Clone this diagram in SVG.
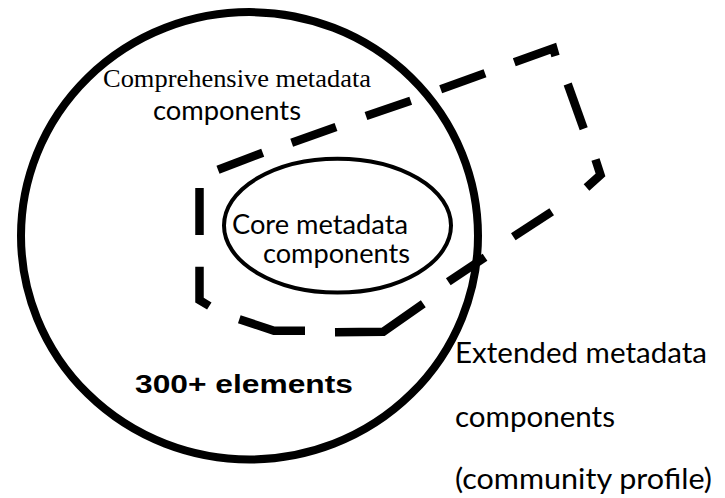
<svg xmlns="http://www.w3.org/2000/svg" width="725" height="498" viewBox="0 0 725 498">
<style>
.bg{fill:#fff}
.outer{fill:none;stroke:#000;stroke-width:8}
.inner{fill:none;stroke:#000;stroke-width:4}
.dash{fill:none;stroke:#000;stroke-width:8.5;stroke-linecap:butt;stroke-linejoin:miter}
.serif{font-family:"Liberation Serif","Times New Roman",serif;fill:#000}
.cal{font-family:Lato,"Open Sans",sans-serif;fill:#000}
.bold{font-family:"Liberation Sans",Arial,sans-serif;font-weight:bold;fill:#000}
</style>
<rect class="bg" x="0" y="0" width="725" height="498"/>
<g id="comprehensive">
<ellipse class="outer" cx="249.5" cy="235.8" rx="228.5" ry="223.7"/>
<text class="serif" x="103" y="87" font-size="26" textLength="268" lengthAdjust="spacingAndGlyphs">Comprehensive metadata</text>
<text class="cal" x="153" y="120" font-size="26" textLength="148" lengthAdjust="spacingAndGlyphs">components</text>
<text class="bold" x="135" y="393" font-size="26" textLength="218" lengthAdjust="spacingAndGlyphs">300+ elements</text>
</g>
<g id="core">
<ellipse class="inner" cx="337.5" cy="225.6" rx="113.5" ry="66.9"/>
<text class="cal" x="232" y="233.5" font-size="26" textLength="176" lengthAdjust="spacingAndGlyphs">Core metadata</text>
<text class="cal" x="263" y="263" font-size="26" textLength="147" lengthAdjust="spacingAndGlyphs">components</text>
</g>
<g id="extended">
<g id="extended-outline">
<path class="dash" d="M218,169.7 L262.7,152.7"/>
<path class="dash" d="M291.7,142.7 L336,127"/>
<path class="dash" d="M366,116 L410.7,100.7"/>
<path class="dash" d="M440.7,89.3 L485,73.3"/>
<path class="dash" d="M514.3,62.3 L553.3,48.3 L555.5,56"/>
<path class="dash" d="M567.7,84 L583.7,128.7"/>
<path class="dash" d="M595.5,159.5 L600.5,175 L586.5,187.5"/>
<path class="dash" d="M551.7,211.7 L513.3,236.7"/>
<path class="dash" d="M485,257.3 L448.3,281.7"/>
<path class="dash" d="M423.3,303.8 L383.3,331.7 L335,332.3"/>
<path class="dash" d="M305,330.7 L274,330.7 L239.3,319.3"/>
<path class="dash" d="M209.3,306 L199.5,300 L199.5,266.7"/>
<path class="dash" d="M199.5,235 L199.5,188"/>
</g>
<text class="cal" x="455" y="363" font-size="28" textLength="252" lengthAdjust="spacingAndGlyphs">Extended metadata</text>
<text class="cal" x="455" y="427" font-size="28" textLength="160" lengthAdjust="spacingAndGlyphs">components</text>
<text class="cal" x="455" y="489" font-size="28" textLength="257" lengthAdjust="spacingAndGlyphs">(community profile)</text>
</g>
</svg>
